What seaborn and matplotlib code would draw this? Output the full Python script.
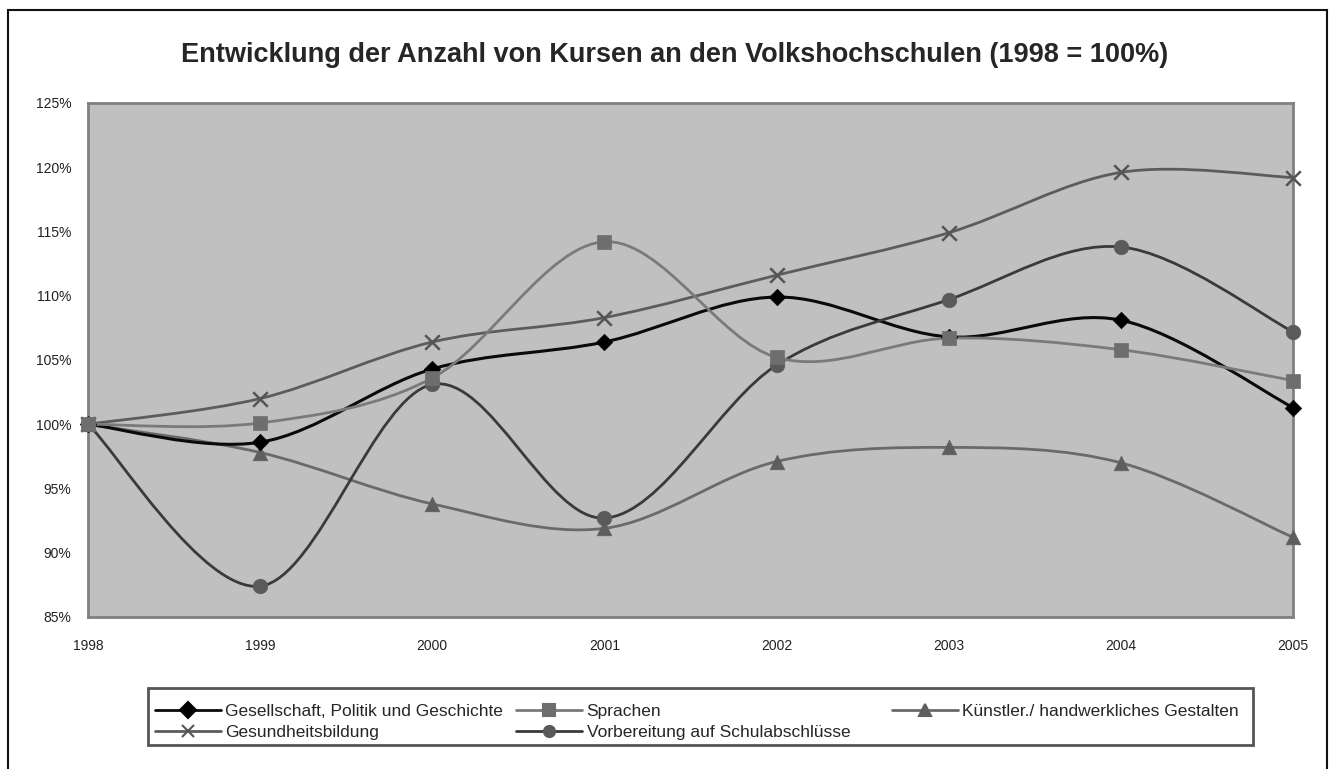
import numpy as np
import pandas as pd
import matplotlib
matplotlib.use("Agg")
import matplotlib.pyplot as plt
import seaborn as sns
from matplotlib.path import Path
from matplotlib.patches import PathPatch, Rectangle
from matplotlib.lines import Line2D
from matplotlib.ticker import FuncFormatter

# === Daten (1998 = 100%) ===
jahre = [1998, 1999, 2000, 2001, 2002, 2003, 2004, 2005]
gesellschaft = [100.0, 98.6, 104.3, 106.4, 109.9, 106.8, 108.1, 101.3]
sprachen = [100.0, 100.1, 103.6, 114.2, 105.2, 106.7, 105.8, 103.4]
kuenstler = [100.0, 97.8, 93.8, 91.9, 97.1, 98.2, 97.0, 91.2]
gesundheit = [100.0, 102.0, 106.4, 108.3, 111.6, 114.9, 119.6, 119.2]
vorbereitung = [100.0, 87.4, 103.1, 92.7, 104.6, 109.7, 113.8, 107.2]

namen = [
    "Gesellschaft, Politik und Geschichte",
    "Sprachen",
    "Künstler./ handwerkliches Gestalten",
    "Gesundheitsbildung",
    "Vorbereitung auf Schulabschlüsse",
]
werte = [gesellschaft, sprachen, kuenstler, gesundheit, vorbereitung]

# Stil je Reihe: Linienfarbe, Markerfarbe, Marker, Größe, zorder
stile = {
    namen[0]: dict(lc="#0a0a0a", mc="#000000", m="D", s=70, z=4),
    namen[1]: dict(lc="#7a7a7a", mc="#6e6e6e", m="s", s=110, z=6),
    namen[2]: dict(lc="#6a6a6a", mc="#5e5e5e", m="^", s=110, z=3),
    namen[3]: dict(lc="#5c5c5c", mc="#555555", m="x", s=110, z=2),
    namen[4]: dict(lc="#3a3a3a", mc="#5a5a5a", m="o", s=110, z=5),
}

df = pd.DataFrame({"Jahr": jahre})
for n, w in zip(namen, werte):
    df[n] = w
df_long = df.melt(id_vars="Jahr", var_name="Reihe", value_name="Wert")


def glatte_linie(x, y):
    """Bezier-Pfad wie bei Excel-Glättung (Catmull-Rom Kontrollpunkte)."""
    x = np.asarray(x, float)
    y = np.asarray(y, float)
    p = np.column_stack([x, y])
    verts = [p[0]]
    codes = [Path.MOVETO]
    for i in range(len(p) - 1):
        p0 = p[i - 1] if i > 0 else p[i]
        p3 = p[i + 2] if i + 2 < len(p) else p[i + 1]
        c1 = p[i] + (p[i + 1] - p0) / 6.0
        c2 = p[i + 1] - (p3 - p[i]) / 6.0
        verts += [c1, c2, p[i + 1]]
        codes += [Path.CURVE4] * 3
    return Path(verts, codes)


sns.set_style("white")
plt.rcParams["font.family"] = ["Liberation Sans", "DejaVu Sans"]

fig = plt.figure(figsize=(13.34, 7.69), dpi=100)
ax = fig.add_axes([88 / 1334, 1 - 617 / 769, (1293 - 88) / 1334, (617 - 103) / 769])
ax.set_facecolor("#c0c0c0")

for n in namen:
    st = stile[n]
    sub = df_long[df_long["Reihe"] == n]
    pfad = glatte_linie(sub["Jahr"], sub["Wert"])
    lw = 2.2 if n == namen[0] else 2.0
    ax.add_patch(PathPatch(pfad, facecolor="none", edgecolor=st["lc"], lw=lw, zorder=st["z"]))
    if st["m"] == "x":
        sns.scatterplot(data=sub, x="Jahr", y="Wert", marker="x", color=st["mc"],
                        s=st["s"], linewidth=1.8, ax=ax, zorder=st["z"] + 5,
                        legend=False, clip_on=False)
    else:
        sns.scatterplot(data=sub, x="Jahr", y="Wert", marker=st["m"], color=st["mc"],
                        edgecolor=st["mc"], s=st["s"], linewidth=0.5, ax=ax,
                        zorder=st["z"] + 5, legend=False, clip_on=False)

ax.set_xlim(1998, 2005)
ax.set_ylim(85, 125)
ax.set_xticks(jahre)
ax.set_yticks(np.arange(85, 126, 5))
ax.yaxis.set_major_formatter(FuncFormatter(lambda v, _: f"{v:.0f}%"))
ax.tick_params(axis="both", length=0, labelsize=10, colors="#222222")
ax.tick_params(axis="x", pad=16)
ax.tick_params(axis="y", pad=12)
ax.set_xlabel("")
ax.set_ylabel("")
for sp in ax.spines.values():
    sp.set_color("#808080")
    sp.set_linewidth(2)
    sp.set_visible(True)

fig.suptitle("Entwicklung der Anzahl von Kursen an den Volkshochschulen (1998 = 100%)",
             x=675 / 1334, y=1 - 42 / 769, fontsize=19.5, fontweight="bold", va="top")

# === Legende ===
def handle(n):
    st = stile[n]
    return Line2D([], [], color=st["lc"], lw=2, marker=st["m"], markersize=8,
                  markerfacecolor=st["mc"], markeredgecolor=st["mc"], markeredgewidth=1.5)

leg_kw = dict(frameon=False, fontsize=12.5, handlelength=3.8, handletextpad=0.25,
              labelspacing=0.3, borderpad=0.2)
leg_a = fig.legend([handle(namen[0]), handle(namen[3]), handle(namen[1]), handle(namen[4])],
                   [namen[0], namen[3], namen[1], namen[4]], ncol=2,
                   loc="upper left", bbox_to_anchor=(143 / 1334, 1 - 692 / 769),
                   columnspacing=0.75, **leg_kw)
leg_b = fig.legend([handle(namen[2])], [namen[2]], loc="upper left",
                   bbox_to_anchor=(880 / 1334, 1 - 692 / 769), **leg_kw)
fig.patches.append(Rectangle((148 / 1334, 1 - 745 / 769), (1253 - 148) / 1334, 57 / 769,
                             transform=fig.transFigure, facecolor="none",
                             edgecolor="#555555", lw=2))

# Rahmen um die Grafik
fig.patches.append(Rectangle((8 / 1334, -0.02), (1327 - 8) / 1334, 1 - 10 / 769 + 0.02,
                             transform=fig.transFigure, facecolor="none",
                             edgecolor="#111111", lw=1.5))

fig.savefig("out.png", dpi=100)
